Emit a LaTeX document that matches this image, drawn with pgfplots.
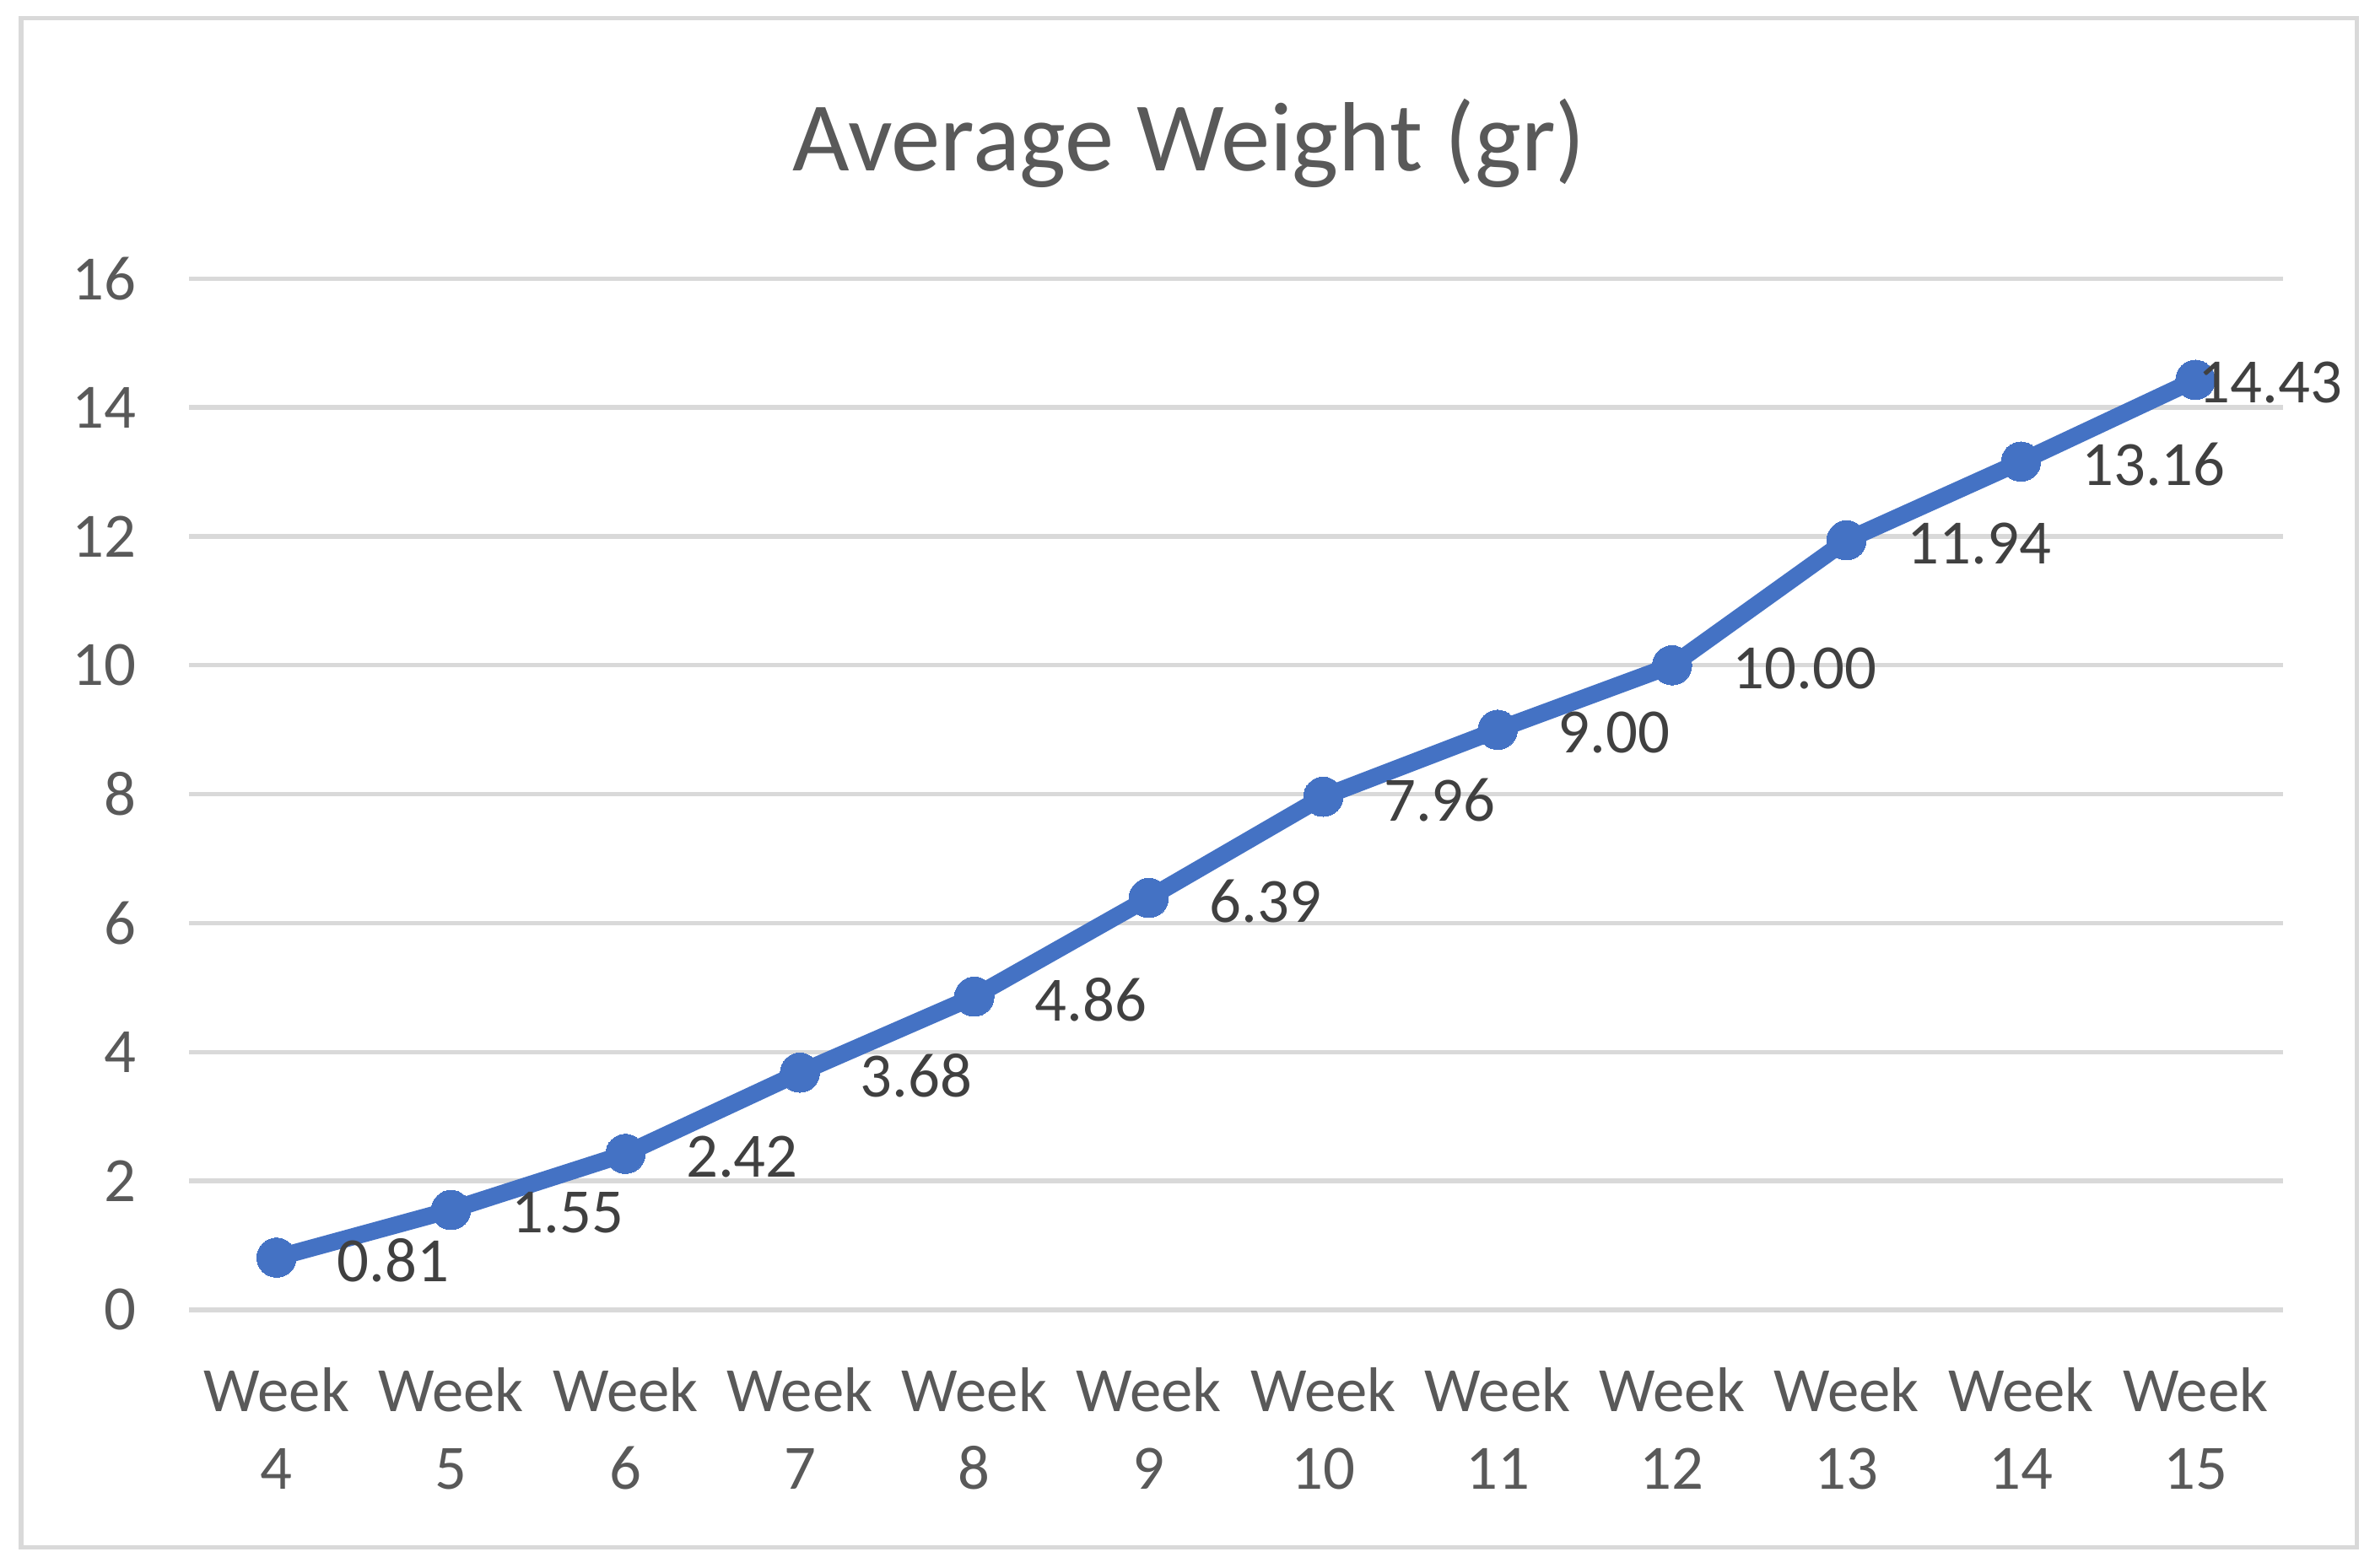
\documentclass[border=0pt]{standalone}
\usepackage{pgfplots}
\pgfplotsset{compat=1.18}
\usepackage{fontspec}
\setmainfont{Carlito}

\definecolor{lineblue}{HTML}{4472C4}
\definecolor{gridgray}{HTML}{D9D9D9}
\definecolor{ticktext}{HTML}{595959}
\definecolor{labeltext}{HTML}{404040}

% weeks 4..15 at x = 0..11; dx = label shift (the last one is pushed back)
\pgfplotstableread{
x  y      dx
0  0.81   12
1  1.55   12
2  2.42   12
3  3.68   12
4  4.86   12
5  6.39   12
6  7.96   12
7  9.00   12
8  10.00  12
9  11.94  12
10 13.16  12
11 14.43  0.6
}\weights

\begin{document}
\begin{tikzpicture}
% chart area (1 px of the 1568 px wide view = 0.3pt)
\path[use as bounding box] (-37.5pt,-51pt) rectangle (432.9pt,259.5pt);
\draw[gridgray, line width=0.9pt] (-33.3pt,-47.1pt) rectangle (429.3pt,255.9pt);
\node[anchor=base, font=\fontsize{19.5}{23}\selectfont, text=ticktext]
  at (198pt,225.6pt) {Average Weight (gr)};
\begin{axis}[
    at={(0,0)}, anchor=south west,
    scale only axis,
    width=414.6pt, height=204.3pt,
    xmin=-0.5, xmax=11.5,
    ymin=0, ymax=16,
    ytick={0,2,...,16},
    xtick={0,...,11},
    xticklabels={Week\\4,Week\\5,Week\\6,Week\\7,Week\\8,Week\\9,Week\\10,Week\\11,Week\\12,Week\\13,Week\\14,Week\\15},
    axis line style={draw=none},
    major tick length=0pt,
    ymajorgrids=true,
    grid style={gridgray, line width=0.9pt},
    tick label style={font=\fontsize{12.5}{15.3}\selectfont, text=ticktext},
    xticklabel style={align=center, yshift=-8pt},
    yticklabel style={xshift=-7pt},
    /pgf/number format/assume math mode=true,
    clip=false,
]
\addplot[lineblue, line width=3.4pt, mark=*, mark size=3.9pt,
    mark options={fill=lineblue, draw=lineblue, line width=0pt},
    visualization depends on={\thisrow{dx} \as \dx},
    nodes near coords={\pgfmathprintnumber[fixed,fixed zerofill,precision=2,assume math mode=true]{\pgfplotspointmeta}},
    every node near coord/.append style={anchor=west, inner sep=0pt,
        xshift=\dx pt, yshift=-0.6pt,
        font=\fontsize{12.5}{15}\selectfont, text=labeltext},
] table[x=x, y=y] {\weights};
\end{axis}
\end{tikzpicture}
\end{document}
